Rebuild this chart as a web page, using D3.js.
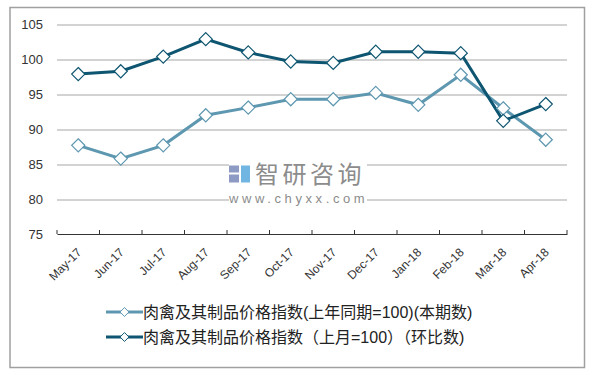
<!DOCTYPE html>
<html>
<head>
<meta charset="utf-8">
<script src="https://cdn.jsdelivr.net/npm/d3@7/dist/d3.min.js"></script>
<style>
  body { margin: 0; background: #fff; }
  text { font-family: "Liberation Sans", Arial, "Noto Sans CJK SC", sans-serif; }
</style>
</head>
<body>
<div id="chart"></div>
<script>
// data
const months = ["May-17", "Jun-17", "Jul-17", "Aug-17", "Sep-17", "Oct-17",
                "Nov-17", "Dec-17", "Jan-18", "Feb-18", "Mar-18", "Apr-18"];
const yoyValues = [87.7, 85.8, 87.7, 92.0, 93.1, 94.3, 94.3, 95.2, 93.5, 97.8, 93.0, 88.5];
const momValues = [97.9, 98.3, 100.4, 102.9, 101.0, 99.7, 99.5, 101.1, 101.1, 100.9, 91.2, 93.6];
const yTicks = [75, 80, 85, 90, 95, 100, 105];
const seriesNames = ["肉禽及其制品价格指数(上年同期=100)(本期数)",
                     "肉禽及其制品价格指数（上月=100）（环比数)"];
const seriesColors = ["#5E97B0", "#0D5570"];

const W = 594, H = 375;
const margin = { top: 24.5, right: 27, bottom: 141, left: 57 },
    width = W - margin.left - margin.right,
    height = H - margin.top - margin.bottom;

const svg = d3.select("#chart")
    .append("svg")
    .attr("width", W)
    .attr("height", H);

// outer frame
svg.append("rect")
    .attr("x", 10).attr("y", 7.5)
    .attr("width", 574.5).attr("height", 360)
    .attr("fill", "none")
    .attr("stroke", "#a0a0a0")
    .attr("stroke-width", 1.5);

const g = svg.append("g")
    .attr("transform", `translate(${margin.left},${margin.top})`);

const x = d3.scaleBand()
    .domain(months)
    .range([0, width]);

const y = d3.scaleLinear()
    .domain([75, 105])
    .range([height, 0]);

// gridlines
g.selectAll(".grid")
    .data(yTicks.slice(1))
    .enter()
    .append("line")
    .attr("x1", 0).attr("x2", width)
    .attr("y1", d => Math.round(y(d)) + 0.5)
    .attr("y2", d => Math.round(y(d)) + 0.5)
    .attr("stroke", "#a6a6a6")
    .attr("stroke-width", 1);

// y labels
g.selectAll(".ylab")
    .data(yTicks)
    .enter()
    .append("text")
    .attr("x", -14)
    .attr("y", d => y(d))
    .attr("dy", "0.35em")
    .attr("text-anchor", "end")
    .style("font-size", "13px")
    .attr("fill", "#333")
    .text(d => d);

// watermark
const wm = g.append("g").attr("transform", "translate(172,140)");
wm.append("rect").attr("x", 0).attr("y", -1).attr("width", 138).attr("height", 42).attr("fill", "#fff");
wm.append("rect").attr("x", 0).attr("y", 1).attr("width", 10).attr("height", 7).attr("fill", "#8d9bc4");
wm.append("rect").attr("x", 0).attr("y", 10).attr("width", 10).attr("height", 8).attr("fill", "#8d9bc4");
wm.append("rect").attr("x", 12).attr("y", 1).attr("width", 9).attr("height", 17).attr("fill", "#71b6e2");
wm.append("text")
    .attr("x", 26).attr("y", 18)
    .style("font-size", "24px")
    .style("letter-spacing", "3.5px")
    .style("font-family", "'Noto Sans CJK SC'")
    .attr("fill", "#8c8c8c")
    .text("智研咨询");
wm.append("text")
    .attr("x", 0).attr("y", 38)
    .style("font-size", "13px")
    .style("letter-spacing", "3.6px")
    .attr("fill", "#8c8c8c")
    .text("www.chyxx.com");

// x axis
const xAxis = g.append("g")
    .attr("transform", `translate(0,${height})`)
    .call(d3.axisBottom(x).tickSize(0).tickFormat(""));
xAxis.select(".domain").attr("stroke", "#333");
g.append("g")
    .selectAll("line")
    .data(months.concat(["end"]))
    .enter()
    .append("line")
    .attr("x1", (d, i) => i * x.bandwidth())
    .attr("x2", (d, i) => i * x.bandwidth())
    .attr("y1", height - 4).attr("y2", height)
    .attr("stroke", "#333");

g.selectAll(".xlab")
    .data(months)
    .enter()
    .append("text")
    .attr("transform", d => `translate(${x(d) + x.bandwidth() / 2 + 1},${height + 16}) rotate(-45)`)
    .attr("text-anchor", "end")
    .attr("dy", "0.35em")
    .style("font-size", "12px")
    .attr("fill", "#333")
    .text(d => d);

// lines + markers
const allSeries = [yoyValues, momValues];
const line = d3.line()
    .x((d, i) => x(months[i]) + x.bandwidth() / 2)
    .y(d => y(d));

allSeries.forEach((vals, s) => {
    g.append("path")
        .datum(vals)
        .attr("d", line)
        .attr("fill", "none")
        .attr("stroke", seriesColors[s])
        .attr("stroke-width", 3);
});
allSeries.forEach((vals, s) => {
    g.selectAll(".pt" + s)
        .data(vals)
        .enter()
        .append("path")
        .attr("d", d3.symbol().type(d3.symbolDiamond2).size(110))
        .attr("transform", (d, i) => `translate(${x(months[i]) + x.bandwidth() / 2},${y(d)})`)
        .attr("fill", "#fff")
        .attr("stroke", seriesColors[s])
        .attr("stroke-width", 1.2);
});

// legend
const legend = svg.append("g").attr("transform", "translate(106,312)");
seriesNames.forEach((name, s) => {
    const row = legend.append("g").attr("transform", `translate(0,${s * 25})`);
    row.append("line")
        .attr("x1", 0).attr("x2", 37)
        .attr("y1", 0).attr("y2", 0)
        .attr("stroke", seriesColors[s])
        .attr("stroke-width", 3);
    row.append("path")
        .attr("d", d3.symbol().type(d3.symbolDiamond2).size(50))
        .attr("transform", "translate(18.5,0)")
        .attr("fill", "#fff")
        .attr("stroke", seriesColors[s]);
    row.append("text")
        .attr("x", 37).attr("y", 0)
        .attr("dy", "0.36em")
        .style("font-size", "16px")
        .attr("fill", "#222")
        .text(name);
});
</script>
</body>
</html>
